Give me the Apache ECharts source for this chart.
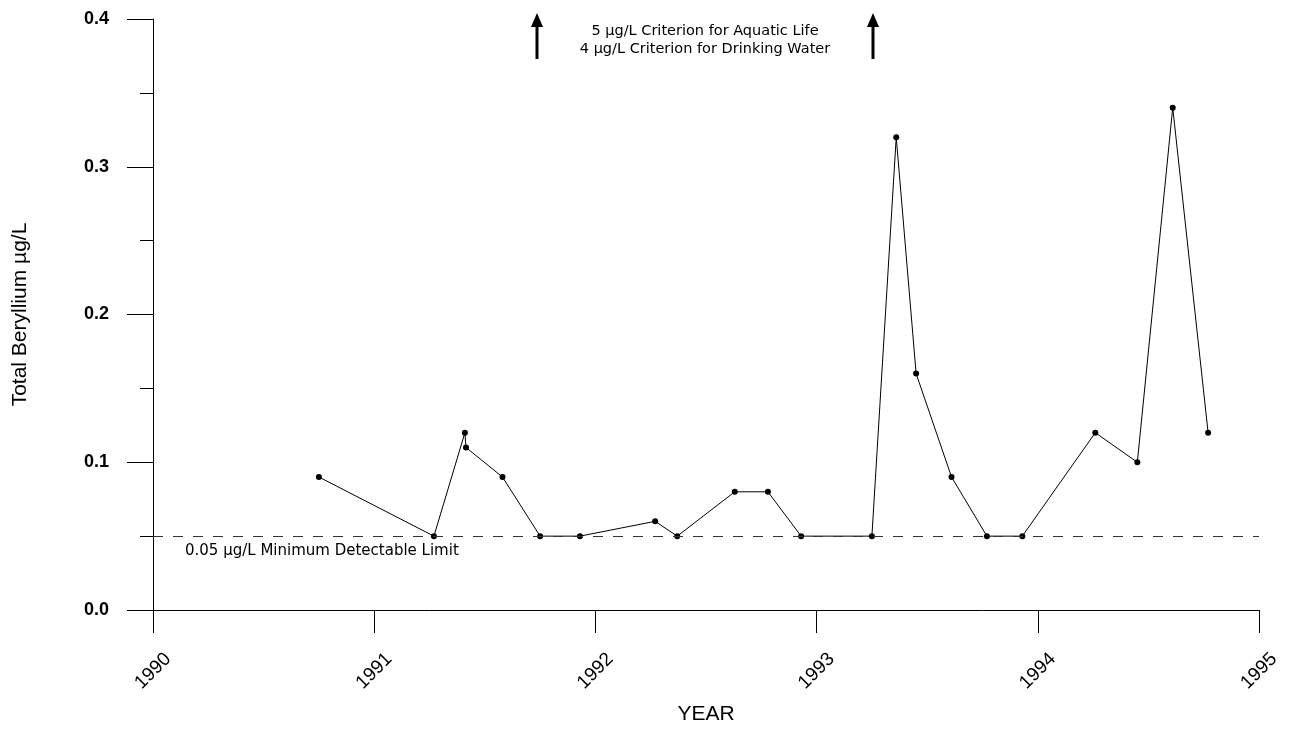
<!DOCTYPE html>
<html>
<head>
<meta charset="utf-8">
<script src="https://cdn.jsdelivr.net/npm/echarts@6/dist/echarts.min.js"></script>
<style>html,body{margin:0;padding:0;background:#fff;}#c{width:1303px;height:730px;}</style>
</head>
<body>
<div id="c"></div>
<script>
// Data
var sampleDates = [1990.75, 1991.27, 1991.41, 1991.415, 1991.58, 1991.75, 1991.93, 1992.27, 1992.37, 1992.63, 1992.78, 1992.93, 1993.25, 1993.36, 1993.45, 1993.61, 1993.77, 1993.93, 1994.26, 1994.45, 1994.61, 1994.77];
var berylliumValues = [0.09, 0.05, 0.12, 0.11, 0.09, 0.05, 0.05, 0.06, 0.05, 0.08, 0.08, 0.05, 0.05, 0.32, 0.16, 0.09, 0.05, 0.05, 0.12, 0.10, 0.34, 0.12];
var detectionLimit = 0.05;
var detectionLabel = '0.05 µg/L Minimum Detectable Limit';
var criterionLines = ['5 µg/L Criterion for Aquatic Life', '4 µg/L Criterion for Drinking Water'];
var yearTicks = [1990, 1991, 1992, 1993, 1994, 1995];

var points = sampleDates.map(function (d, i) { return [d, berylliumValues[i]]; });

var chart = echarts.init(document.getElementById('c'), null, {renderer: 'canvas'});
var arrow = function (x) {
  return [
    {type: 'line', shape: {x1: x, y1: 59, x2: x, y2: 24}, style: {stroke: '#000', lineWidth: 3}},
    {type: 'polygon', shape: {points: [[x - 6, 27], [x + 6, 27], [x, 13]]}, style: {fill: '#000'}}
  ];
};
chart.setOption({
  animation: false,
  backgroundColor: '#fff',
  grid: {left: 153, right: 44, top: 19, bottom: 120, containLabel: false, outerBoundsMode: 'none'},
  xAxis: {
    type: 'value', min: yearTicks[0], max: yearTicks[yearTicks.length - 1], interval: 1,
    name: 'YEAR', nameLocation: 'middle', nameGap: 94,
    nameTextStyle: {fontFamily: 'Liberation Sans', fontSize: 21, color: '#000'},
    axisLine: {show: true, onZero: false, lineStyle: {color: '#000', width: 1}},
    axisTick: {show: true, length: 23, lineStyle: {color: '#000'}},
    axisLabel: {rotate: 45, margin: 61, align: 'center', verticalAlign: 'middle',
      fontFamily: 'Liberation Sans', fontSize: 19, color: '#000',
      formatter: function (v) { return String(v); }},
    splitLine: {show: false}
  },
  yAxis: {
    type: 'value', min: 0, max: 0.4, interval: 0.1,
    name: 'Total Beryllium µg/L', nameLocation: 'middle', nameGap: 122,
    nameTextStyle: {fontFamily: 'Liberation Sans', fontSize: 21, color: '#000'},
    axisLine: {show: true, lineStyle: {color: '#000', width: 1}},
    axisTick: {show: true, length: 26, lineStyle: {color: '#000'}},
    minorTick: {show: true, splitNumber: 2, length: 13, lineStyle: {color: '#000'}},
    axisLabel: {margin: 44, fontFamily: 'Liberation Sans', fontWeight: 'bold', fontSize: 18, color: '#000',
      formatter: function (v) { return v.toFixed(1); }},
    splitLine: {show: false}
  },
  series: [{
    type: 'line', data: points,
    symbol: 'circle', symbolSize: 6,
    itemStyle: {color: '#000'},
    lineStyle: {color: '#000', width: 1},
    markLine: {
      silent: true, symbol: ['none', 'none'],
      lineStyle: {color: '#333', type: [10, 10], width: 1},
      label: {show: true, position: 'insideStartBottom', formatter: detectionLabel,
        fontFamily: 'DejaVu Sans', fontSize: 15, color: '#000', distance: [32, 7]},
      data: [{yAxis: detectionLimit}]
    }
  }],
  graphic: [].concat(arrow(537), arrow(873), [
    {type: 'text', x: 705, y: 22,
     style: {text: criterionLines.join('\n'), textAlign: 'center', textVerticalAlign: 'top',
       font: '14.5px "DejaVu Sans"', fill: '#000', lineHeight: 18}}
  ])
});
</script>
</body>
</html>
